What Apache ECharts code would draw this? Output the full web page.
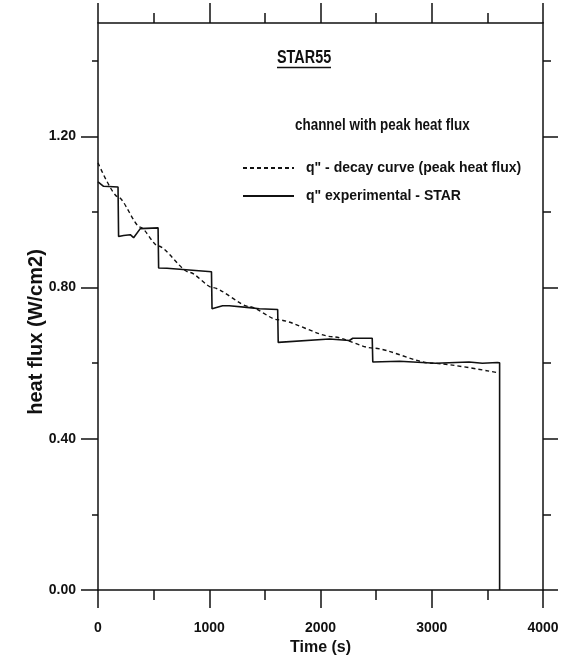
<!DOCTYPE html>
<html>
<head>
<meta charset="utf-8">
<script src="https://cdn.jsdelivr.net/npm/echarts@6/dist/echarts.min.js"></script>
<style>
  html, body { margin: 0; padding: 0; background: #fff; }
  #chart { width: 570px; height: 663px; }
</style>
</head>
<body>
<div id="chart"></div>
<script>
// q" decay curve for the channel with peak heat flux
const decayTime = [0, 180, 380, 540, 825, 1030, 1360, 1615, 2110, 2470, 3000, 3590];
const decayFlux = [1.13, 1.04, 0.96, 0.91, 0.84, 0.80, 0.75, 0.715, 0.67, 0.64, 0.60, 0.575];

// q" experimental (STAR) step profile
const expTime = [0, 50, 180, 185, 230, 290, 320, 380, 540, 545, 620, 1020, 1025, 1120, 1180, 1360, 1450, 1615,
                 1620, 2080, 2260, 2290, 2465, 2470, 2710, 3035, 3335, 3455, 3590, 3610, 3610];
const expFlux = [1.08, 1.068, 1.066, 0.935, 0.938, 0.94, 0.932, 0.956, 0.958, 0.852, 0.851, 0.842, 0.744, 0.752, 0.752, 0.747, 0.744, 0.742,
                 0.655, 0.664, 0.660, 0.666, 0.666, 0.603, 0.605, 0.600, 0.603, 0.600, 0.602, 0.601, 0];

// axis ticks
const xMajor = [0, 1000, 2000, 3000, 4000];
const xMinor = [500, 1500, 2500, 3500];
const yMajor = [0, 0.4, 0.8, 1.2];
const yMinor = [0.2, 0.6, 1.0, 1.4];

const FONT = "'Liberation Sans', Arial, sans-serif";
const INK = '#111';

const zip = (a, b) => a.map((v, i) => [v, b[i]]);

function xAx(pos, values, len, withLine, withLabel) {
  return {
    type: 'value', position: pos, min: 0, max: 4000,
    axisLine: { show: withLine, onZero: false, lineStyle: { color: INK, width: 1.5 } },
    axisTick: { show: true, inside: false, length: len, customValues: values, lineStyle: { color: INK, width: 1.5 } },
    axisLabel: withLabel ? {
      show: true, customValues: xMajor, margin: 31, color: INK,
      fontFamily: FONT, fontSize: 14, fontWeight: 'bold',
      formatter: v => String(v)
    } : { show: false },
    splitLine: { show: false }
  };
}

function yAx(pos, values, len, withLine, withLabel) {
  return {
    type: 'value', position: pos, min: 0, max: 1.5,
    axisLine: { show: withLine, onZero: false, lineStyle: { color: INK, width: 1.5 } },
    axisTick: { show: true, inside: false, length: len, customValues: values, lineStyle: { color: INK, width: 1.5 } },
    axisLabel: withLabel ? {
      show: true, customValues: yMajor, margin: 22, color: INK,
      fontFamily: FONT, fontSize: 14, fontWeight: 'bold',
      formatter: v => v.toFixed(2)
    } : { show: false },
    splitLine: { show: false }
  };
}

const chart = echarts.init(document.getElementById('chart'), null, { renderer: 'canvas' });

const bottomX = xAx('bottom', xMajor, 18, true, true);
bottomX.name = 'Time (s)';
bottomX.nameLocation = 'middle';
bottomX.nameGap = 49;
bottomX.nameTextStyle = { color: INK, fontFamily: FONT, fontSize: 16, fontWeight: 'bold' };

chart.setOption({
  animation: false,
  backgroundColor: '#fff',
  grid: { left: 98, right: 27, top: 23, bottom: 73, containLabel: false },
  xAxis: [
    bottomX,
    xAx('bottom', xMinor, 10, false, false),
    xAx('top', xMajor, 20, true, false),
    xAx('top', xMinor, 10, false, false)
  ],
  yAxis: [
    yAx('left', yMajor, 17, true, true),
    yAx('left', yMinor, 6, false, false),
    yAx('right', yMajor, 15, true, false),
    yAx('right', yMinor, 8, false, false)
  ],
  legend: {
    orient: 'vertical', left: 242, top: 161, padding: 0,
    itemWidth: 51, itemHeight: 14, itemGap: 14,
    selectedMode: false,
    itemStyle: { opacity: 0 },
    data: ['q" - decay curve (peak heat flux)', 'q" experimental - STAR'],
    textStyle: { color: INK, fontFamily: FONT, fontSize: 14, fontWeight: 'bold', padding: [0, 0, 0, 7] }
  },
  graphic: [
    { type: 'text', x: 277, y: 58.5, scaleX: 0.8,
      style: { text: 'STAR55', fill: INK, font: "bold 18px " + FONT, align: 'left', verticalAlign: 'middle' } },
    { type: 'line', shape: { x1: 277, y1: 67.5, x2: 331, y2: 67.5 },
      style: { stroke: INK, lineWidth: 1.5 } },
    { type: 'text', x: 295, y: 125, scaleX: 0.79,
      style: { text: 'channel with peak heat flux', fill: INK, font: "bold 17px " + FONT, align: 'left', verticalAlign: 'middle' } },
    { type: 'text', x: 36, y: 332, rotation: Math.PI / 2,
      style: { text: 'heat flux (W/cm2)', fill: INK, font: "bold 20px " + FONT,
               align: 'center', verticalAlign: 'middle' } }
  ],
  series: [
    {
      name: 'q" - decay curve (peak heat flux)',
      type: 'line', xAxisIndex: 0, yAxisIndex: 0,
      data: zip(decayTime, decayFlux),
      smooth: 0.25, smoothMonotone: 'x',
      showSymbol: false, symbol: 'none',
      lineStyle: { color: INK, width: 1.4, type: [4, 3] },
      itemStyle: { color: INK },
      z: 3
    },
    {
      name: 'q" experimental - STAR',
      type: 'line', xAxisIndex: 0, yAxisIndex: 0,
      data: zip(expTime, expFlux),
      showSymbol: false, symbol: 'none',
      lineStyle: { color: INK, width: 1.6 },
      itemStyle: { color: INK },
      z: 4
    }
  ]
});
</script>
</body>
</html>
